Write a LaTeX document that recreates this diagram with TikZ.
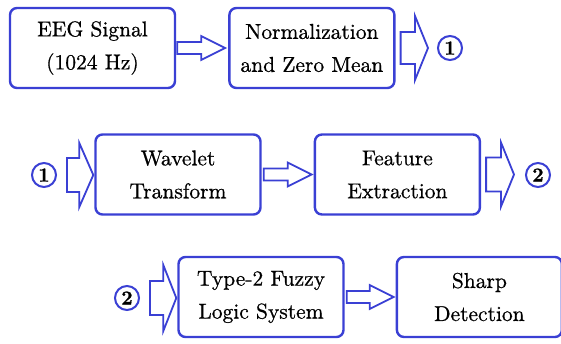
\documentclass[tikz,border=0pt]{standalone}
\usepackage{fontspec}
\setmainfont{lmroman10-regular.otf}[BoldFont=lmroman10-bold.otf,FakeBold=0.7]
\usepackage{tikz}
\usetikzlibrary{positioning,calc}
\definecolor{flowblue}{RGB}{58,64,212}

% hollow block arrow from one node anchor to another
\newcommand{\blockarrow}[6][]{%
  \draw[#1] let \p1=(#2), \p2=(#3) in
    (\x1,\y1+#4) -- (\x2-#6,\y1+#4) -- (\x2-#6,\y1+#5) -- (\x2,\y1)
    -- (\x2-#6,\y1-#5) -- (\x2-#6,\y1-#4) -- (\x1,\y1-#4) -- cycle;}

\begin{document}
\begin{tikzpicture}[x=1pt,y=-1pt,
  box/.style={draw=flowblue,line width=2.4pt,rounded corners=7pt,fill=white,minimum width=165pt,minimum height=80pt,align=center,font=\fontsize{21.5}{33}\selectfont},
  numcirc/.style={draw=flowblue,line width=2pt,circle,minimum size=24pt,inner sep=0pt,font=\fontsize{20}{20}\selectfont\bfseries},
  fatarrow/.style={draw=flowblue,line width=1.8pt,fill=white,line join=miter}
]
  \useasboundingbox (0,0) rectangle (561,344);

  \node[box] (eeg) at (92.5,48) {EEG Signal\\(1024 Hz)};
  \node[box,right=52pt of eeg] (norm) {Normalization\\and Zero Mean};
  \node[numcirc] (outA) at (450,48) {1};

  \node[numcirc] (inA) at (44,175) {1};
  \node[box] (wave) at (178,174.5) {Wavelet\\Transform};
  \node[box,right=52pt of wave] (feat) {Feature\\Extraction};
  \node[numcirc] (outB) at (538,175) {2};

  \node[numcirc] (inB) at (127,298) {2};
  \node[box] (fuzzy) at (261,297) {Type-2 Fuzzy\\Logic System};
  \node[box,right=51pt of fuzzy] (sharp) {Sharp\\Detection};

  \blockarrow[fatarrow]{[xshift=1pt]eeg.east}{[xshift=-3pt]norm.west}{6pt}{12pt}{24pt}
  \blockarrow[fatarrow]{[xshift=5pt]norm.east}{[xshift=-9pt]outA.west}{16pt}{32pt}{13pt}

  \blockarrow[fatarrow]{[xshift=10pt]inA.east}{[xshift=-1pt]wave.west}{17pt}{32pt}{14pt}
  \blockarrow[fatarrow]{[xshift=2pt]wave.east}{[xshift=-2pt]feat.west}{6pt}{12pt}{24pt}
  \blockarrow[fatarrow]{[xshift=5pt]feat.east}{[xshift=-11pt]outB.west}{17pt}{32pt}{13pt}

  \blockarrow[fatarrow]{[xshift=10pt]inB.east}{[xshift=-1pt]fuzzy.west}{17pt}{33pt}{13pt}
  \blockarrow[fatarrow]{[xshift=2pt]fuzzy.east}{[xshift=-2pt]sharp.west}{6pt}{12pt}{24pt}
\end{tikzpicture}
\end{document}
